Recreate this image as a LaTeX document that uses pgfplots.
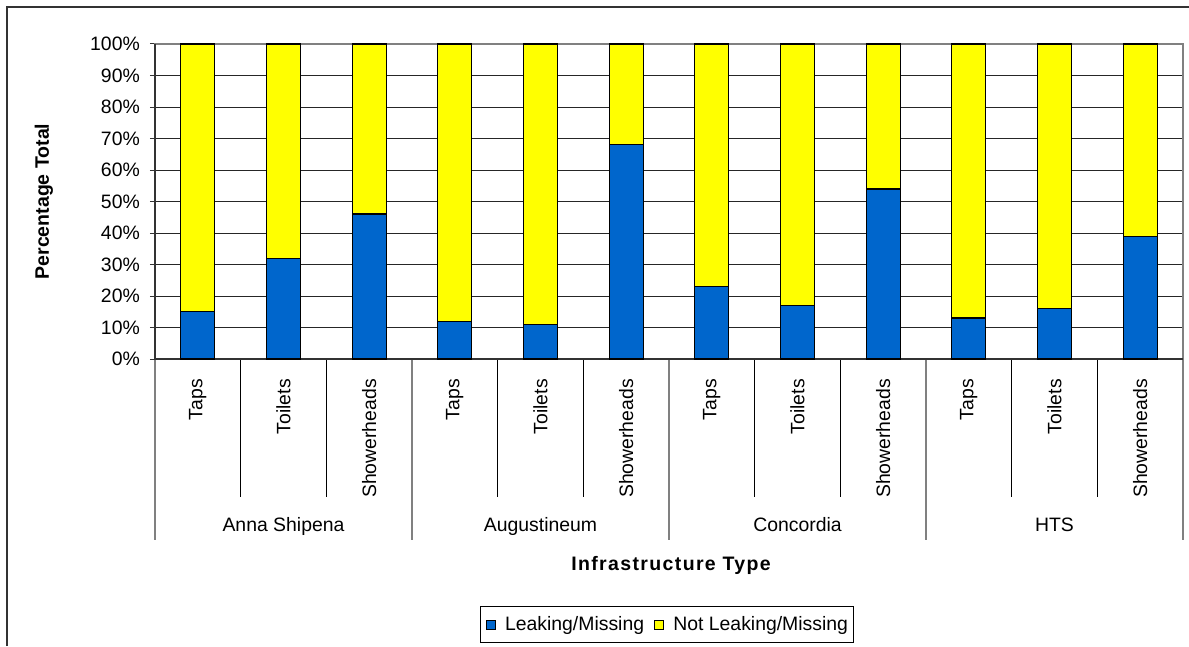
\documentclass[border=0pt]{standalone}
\usepackage{fontspec}
\setmainfont{Liberation Sans}
\usepackage{pgfplots}
\pgfplotsset{compat=1.18}
\definecolor{leak}{HTML}{0066CC}
\definecolor{notleak}{HTML}{FFFF00}
\newcommand{\fs}{\fontsize{19.4}{22}\selectfont}
\newcommand{\fb}{\fontsize{19.5}{22}\selectfont\bfseries}
\begin{document}
\begin{tikzpicture}[x=1pt,y=1pt]
\useasboundingbox (0,0) rectangle (1189,646);
\draw[black!80,line width=1.5pt] (7,0) -- (7,639) -- (1189,639);
\begin{axis}[
  at={(155pt,287pt)}, anchor=south west,
  scale only axis, width=1028pt, height=315pt,
  ybar stacked, bar width=34pt,
  xmin=-0.5, xmax=11.5, ymin=0, ymax=100,
  xtick={0,...,11},
  xticklabels={Taps,Toilets,Showerheads,Taps,Toilets,Showerheads,Taps,Toilets,Showerheads,Taps,Toilets,Showerheads},
  xticklabel style={rotate=90, anchor=east, inner sep=0pt, font=\fs},
  xticklabel shift=15pt,
  x tick style={draw=none},
  ytick={0,10,...,100},
  yticklabels={0\%,10\%,20\%,30\%,40\%,50\%,60\%,70\%,80\%,90\%,100\%},
  yticklabel style={font=\fs, inner sep=0pt},
  yticklabel shift=10pt,
  ytick pos=left, tick align=outside, major tick length=5pt,
  y tick style={black!80, line width=1pt},
  ymajorgrids, major grid style={black!85, line width=1pt},
  axis line style={draw=gray, line width=1.5pt},
  clip=false,
  xlabel={\addfontfeature{LetterSpace=7}Infrastructure Type},
  xlabel style={font=\fb, at={(axis description cs:0.502,-0.654)}, anchor=center},
  ylabel={Percentage Total},
  ylabel style={font=\fb, at={(axis description cs:-0.108,0.5)}, anchor=center},
  legend columns=2,
  legend style={at={(0.498,-0.843)}, anchor=center, draw=black, line width=1pt,
    font=\fs, inner xsep=5pt, inner ysep=10pt, nodes={inner sep=0pt},
    /tikz/every odd column/.append style={column sep=9pt},
    /tikz/every even column/.append style={column sep=10pt}},
  legend image code/.code={\draw[#1, line width=0.9pt] (0pt,-4.6pt) rectangle (9.3pt,4.6pt);},
]
\addplot[fill=leak, draw=black, line width=1.3pt] coordinates {
  (0,15) (1,32) (2,46) (3,12) (4,11) (5,68) (6,23) (7,17) (8,54) (9,13) (10,16) (11,39)};
\addplot[fill=notleak, draw=black, line width=1.3pt] coordinates {
  (0,85) (1,68) (2,54) (3,88) (4,89) (5,32) (6,77) (7,83) (8,46) (9,87) (10,84) (11,61)};
\legend{Leaking/Missing, Not Leaking/Missing}
\draw[black!80, line width=1.5pt] (rel axis cs:0,1) -- (rel axis cs:0,0) -- (rel axis cs:1,0);
\pgfplotsinvokeforeach{0.5,1.5,3.5,4.5,6.5,7.5,9.5,10.5}{
  \draw[black, line width=1pt] (axis cs:#1,0) -- ++(0pt,-138pt);}
\pgfplotsinvokeforeach{-0.5,2.5,5.5,8.5,11.5}{
  \draw[gray, line width=1.5pt] (axis cs:#1,0) -- ++(0pt,-181pt);}
\node[font=\fs, anchor=base, yshift=-172pt] at (axis cs:1,0) {Anna Shipena};
\node[font=\fs, anchor=base, yshift=-172pt] at (axis cs:4,0) {Augustineum};
\node[font=\fs, anchor=base, yshift=-172pt] at (axis cs:7,0) {Concordia};
\node[font=\fs, anchor=base, yshift=-172pt] at (axis cs:10,0) {HTS};
\end{axis}
\end{tikzpicture}
\end{document}
